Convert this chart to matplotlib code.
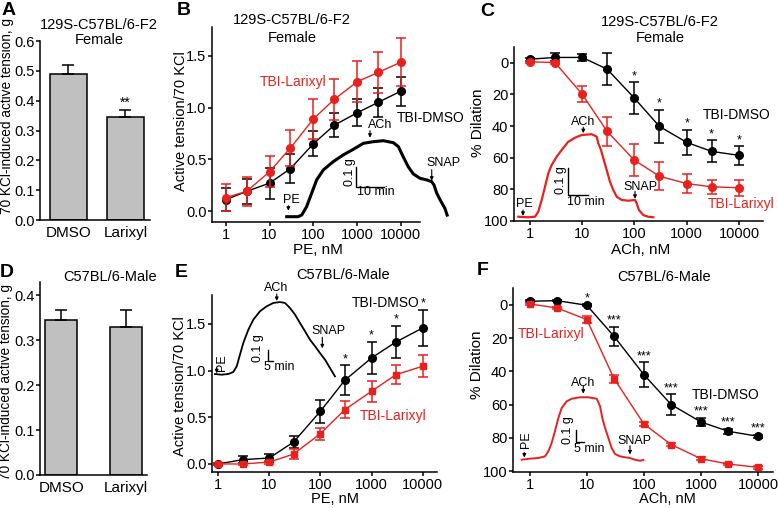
import matplotlib.pyplot as plt
from matplotlib.ticker import FixedLocator, NullLocator, FormatStrFormatter

plt.rcParams['font.family'] = ['Liberation Sans', 'DejaVu Sans']

W, H = 778, 508
RED = '#e8211d'
GREY = '#c0c0c0'

# ---- bar panels (A, D) ----
groups = ['DMSO', 'Larixyl']
a_tension = [0.49, 0.345]
a_sem = [0.03, 0.024]
d_tension = [0.344, 0.328]
d_sem = [0.022, 0.038]

# ---- concentration-response panels ----
conc = [1, 3, 10, 30, 100, 300, 1000, 3000, 10000]
conc_ticks = [1, 10, 100, 1000, 10000]

b_dmso = [0.11, 0.19, 0.27, 0.41, 0.65, 0.83, 0.95, 1.05, 1.16]
b_dmso_sem = [0.11, 0.12, 0.15, 0.14, 0.12, 0.115, 0.13, 0.14, 0.14]
b_lar = [0.13, 0.19, 0.38, 0.61, 0.89, 1.08, 1.25, 1.34, 1.44]
b_lar_sem = [0.13, 0.14, 0.15, 0.17, 0.19, 0.2, 0.2, 0.2, 0.23]

c_dmso = [-2.3, -3.4, -3.4, 4, 22.4, 40.2, 50.3, 56, 58.5]
c_dmso_sem = [1, 2.5, 2, 10, 10, 10.5, 8, 7, 5.8]
c_lar = [-0.6, -0.2, 19.9, 43.4, 61.6, 71.7, 76.3, 78.4, 79]
c_lar_sem = [0.5, 1, 5, 9, 10, 9, 6, 4.5, 5]
c_stars = ['', '', '', '', '*', '*', '*', '*', '*']

e_dmso = [0.0, 0.046, 0.064, 0.236, 0.565, 0.897, 1.136, 1.307, 1.457]
e_dmso_sem = [0.01, 0.035, 0.04, 0.065, 0.125, 0.16, 0.175, 0.175, 0.196]
e_lar = [0.0, 0.0, 0.02, 0.107, 0.325, 0.582, 0.779, 0.957, 1.047]
e_lar_sem = [0.01, 0.01, 0.015, 0.05, 0.065, 0.09, 0.11, 0.1, 0.12]
e_stars = ['', '', '', '', '', '*', '*', '*', '*']

f_dmso = [-2.2, -2.6, 0.2, 18.9, 42, 60, 70.5, 76.1, 79.1]
f_dmso_sem = [0.5, 0.5, 0.5, 5.7, 7.6, 6.2, 2.7, 1.5, 1]
f_lar = [-0.6, 1.8, 8.8, 44.4, 71.7, 84.1, 92.6, 95.8, 97.8]
f_lar_sem = [0.5, 0.8, 2, 2.5, 1.5, 1, 0.8, 0.8, 0.8]
f_stars = ['', '', '*', '***', '***', '***', '***', '***', '***']

# ---- example myograph traces (minutes, grams above baseline) ----
b_trace_t = [0, 4.1, 5.4, 7.1, 8.9, 10.7, 13.1, 16.6, 20.2, 23.8, 27.4, 30.9, 34.5,
             38.1, 39.9, 41.6, 43.4, 45.2, 47.6, 50.0, 51.8, 52.6, 53.6, 54.8, 56.5, 57.3]
b_trace_g = [0.0, 0.0, 0.009, 0.05, 0.117, 0.184, 0.234, 0.275, 0.309, 0.337, 0.367, 0.375, 0.38,
             0.37, 0.35, 0.30, 0.25, 0.214, 0.192, 0.184, 0.175, 0.159, 0.117, 0.084, 0.042, 0.008]

c_trace_t = [0, 5, 8.35, 10, 11.7, 13.35, 15, 16.7, 19.2, 21.7, 25, 28.35, 31.7, 36.7, 39.2,
             40, 41.35, 42.5, 44.2, 45.85, 47.5, 49.2, 51.7, 55, 58.35, 59.2, 60.35, 62.5, 65, 67.5]
c_trace_g = [0.001, -0.001, 0.001, 0.02, 0.064, 0.113, 0.164, 0.195, 0.226, 0.251, 0.282, 0.297,
             0.307, 0.31, 0.301, 0.276, 0.251, 0.22, 0.176, 0.132, 0.101, 0.076, 0.064, 0.061,
             0.064, 0.051, 0.026, 0.007, 0.001, -0.001]

e_trace_t = [0, 5.8, 11.6, 15.9, 18.9, 21.7, 24.6, 29.0, 33.3, 39.1, 45.0, 50.7, 56.5, 60.9,
             65.2, 69.6, 73.9, 78.3, 82.6, 87.0, 91.3, 95.7, 100.0, 104.3]
e_trace_g = [0.006, 0, 0.006, 0.023, 0.072, 0.171, 0.271, 0.385, 0.47, 0.542, 0.585, 0.613,
             0.621, 0.613, 0.57, 0.513, 0.442, 0.371, 0.299, 0.243, 0.185, 0.128, 0.057, -0.014]

f_trace_t = [0, 4.8, 9.6, 13.5, 15.4, 17.3, 19.2, 21.2, 23.1, 26, 28.9, 33.7, 38.5, 43.4,
             45.3, 46.6, 48.2, 50.1, 52, 53.9, 56.8, 59.7, 62.6, 65.5, 68.4, 70.3]
f_trace_g = [0.002, 0.011, 0.016, 0.03, 0.071, 0.138, 0.233, 0.341, 0.423, 0.477, 0.498, 0.51,
             0.51, 0.498, 0.437, 0.341, 0.26, 0.179, 0.098, 0.049, 0.03, 0.022, 0.016, 0.002,
             -0.006, 0]

fig = plt.figure(figsize=(W / 100, H / 100), dpi=100)


def px_axes(left, top, right, bottom):
    return fig.add_axes([left / W, 1 - bottom / H, (right - left) / W, (bottom - top) / H])


def fig_text(x, y, s, **kw):
    kw.setdefault('ha', 'center')
    kw.setdefault('va', 'center')
    fig.text(x / W, 1 - y / H, s, **kw)


def style(ax):
    ax.spines[['top', 'right']].set_visible(False)
    ax.spines[['left', 'bottom']].set_linewidth(1.1)
    ax.tick_params(direction='out', length=3, width=1.1, pad=1)
    ax.tick_params(axis='y', labelsize=10.5)
    ax.tick_params(axis='x', labelsize=10.5)


def bar_panel(box, values, sems, xlim, ylim, yticks, width, stars):
    ax = px_axes(*box)
    pos = range(len(groups))
    ax.bar(pos, values, width=width, color=GREY, edgecolor='black', linewidth=1.1, zorder=2)
    ax.errorbar(pos, values, yerr=[[0] * len(sems), sems], fmt='none', ecolor='black',
                elinewidth=1.1, capsize=4.5, capthick=1.1, zorder=3)
    for p, v, e, s in zip(pos, values, sems, stars):
        if s:
            ax.annotate(s, (p, v + e), xytext=(0, 0), textcoords='offset points',
                        ha='center', va='bottom', fontsize=10)
    ax.set_xlim(xlim)
    ax.set_ylim(ylim)
    ax.set_xticks(list(pos))
    ax.set_xticklabels(groups)
    ax.set_yticks(yticks)
    ax.yaxis.set_major_formatter(FormatStrFormatter('%.1f'))
    style(ax)
    ax.tick_params(axis='x', length=0, pad=4, labelsize=11)
    return ax


def dose_panel(box, xlim, ylim, yticks, dmso, dmso_sem, lar, lar_sem, lar_marker, stars, fmt=None):
    ax = px_axes(*box)
    ax.set_xscale('log')
    ax.errorbar(conc, dmso, yerr=dmso_sem, color='black', marker='o', ms=5.5, lw=1,
                elinewidth=1.1, capsize=3.5, capthick=1.1, zorder=3)
    ax.errorbar(conc, lar, yerr=lar_sem, color=RED, marker=lar_marker,
                ms=5.5 if lar_marker == 'o' else 5, lw=1,
                elinewidth=1.1, capsize=3.5, capthick=1.1, zorder=4)
    inverted = ylim[0] > ylim[1]
    for x, m, e, s in zip(conc, dmso, dmso_sem, stars):
        if s:
            top = m - e if inverted else m + e
            ax.annotate(s, (x, top), xytext=(0, 0), textcoords='offset points',
                        ha='center', va='bottom', fontsize=9)
    ax.set_xlim(xlim)
    ax.set_ylim(ylim)
    ax.xaxis.set_major_locator(FixedLocator(conc_ticks))
    ax.xaxis.set_minor_locator(NullLocator())
    ax.set_xticklabels([str(t) for t in conc_ticks])
    ax.set_yticks(yticks)
    if fmt:
        ax.yaxis.set_major_formatter(FormatStrFormatter(fmt))
    style(ax)
    return ax


def trace_axes(origin, px_per_min, px_per_g, tlim, glim):
    x0, y0 = origin
    ax = px_axes(x0 + tlim[0] * px_per_min, y0 - glim[1] * px_per_g,
                 x0 + tlim[1] * px_per_min, y0 - glim[0] * px_per_g)
    ax.set_xlim(tlim)
    ax.set_ylim(glim)
    ax.axis('off')
    return ax


def event(ax, label, label_xy, arrow_t, arrow_g, rot=0):
    ax.text(label_xy[0], label_xy[1], label, ha='center', va='center', fontsize=9, rotation=rot)
    ax.annotate('', xy=(arrow_t, arrow_g[1]), xytext=(arrow_t, arrow_g[0]),
                arrowprops=dict(arrowstyle='-|>', color='black', lw=0.8,
                                mutation_scale=5, shrinkA=0, shrinkB=0))


def scale_bar(ax, t, g, minutes, glabel_xy, tlabel_xy):
    ax.plot([t, t, t + minutes], [g + 0.1, g, g], color='black', lw=1)
    ax.text(glabel_xy[0], glabel_xy[1], '0.1 g', rotation=90, ha='center', va='center', fontsize=9)
    ax.text(tlabel_xy[0], tlabel_xy[1], f'{minutes} min', ha='center', va='center', fontsize=9)


# ---- A ----
bar_panel((40, 41, 150, 220), a_tension, a_sem, (-0.5, 1.43), (0, 0.6),
          [0, 0.1, 0.2, 0.3, 0.4, 0.5, 0.6], 0.64, ['', '**'])
# ---- D ----
bar_panel((40, 282, 147, 475), d_tension, d_sem, (-0.33, 1.33), (0, 0.429),
          [0, 0.1, 0.2, 0.3, 0.4], 0.49, ['', ''])

# ---- B ----
dose_panel((212, 27, 420, 222), (0.486, 27300), (-0.106, 1.78), [0, 0.5, 1.0, 1.5],
           b_dmso, b_dmso_sem, b_lar, b_lar_sem, 'o', [''] * 9, '%.1f')
tb = trace_axes((286.7, 216.7), 2.8, 200, (-3, 62), (-0.03, 0.5))
tb.plot(b_trace_t, b_trace_g, color='black', lw=2.2, solid_joinstyle='round')
event(tb, 'PE', (1.5, 0.083), 0.6, (0.055, 0.03))
event(tb, 'ACh', (33.3, 0.457), 29.75, (0.43, 0.395))
event(tb, 'SNAP', (55.9, 0.268), 51.8, (0.235, 0.18))
scale_bar(tb, 24.75, 0.15, 10, (22.6, 0.223), (31.7, 0.124))

# ---- C ----
dose_panel((514, 47, 763, 221), (0.494, 28840), (100, -10), [0, 20, 40, 60, 80, 100],
           c_dmso, c_dmso_sem, c_lar, c_lar_sem, 'o', c_stars)
tc = trace_axes((518.3, 217), 2.0, 267, (-3, 72), (-0.03, 0.42))
tc.plot(c_trace_t, c_trace_g, color=RED, lw=1.6, solid_joinstyle='round')
event(tc, 'PE', (2.9, 0.049), 2.35, (0.026, 0.004))
event(tc, 'ACh', (32.5, 0.357), 32.5, (0.336, 0.314))
event(tc, 'SNAP', (60.85, 0.111), 58.35, (0.096, 0.068))
scale_bar(tc, 25, 0.082, 10, (21.35, 0.139), (33.7, 0.057))

# ---- E ----
dose_panel((212, 295, 437, 472), (0.757, 19050), (-0.086, 1.81), [0, 0.5, 1.0, 1.5],
           e_dmso, e_dmso_sem, e_lar, e_lar_sem, 's', e_stars, '%.1f')
te = trace_axes((215, 374.7), 1.15, 117, (-3, 110), (-0.05, 0.8))
te.plot(e_trace_t, e_trace_g, color='black', lw=1.3, solid_joinstyle='round')
event(te, 'PE', (6.1, 0.1), 1.5, (0.06, 0.012), rot=90)
event(te, 'ACh', (52.9, 0.741), 53.7, (0.69, 0.63))
event(te, 'SNAP', (99.1, 0.373), 93.3, (0.32, 0.225))
scale_bar(te, 45.8, 0.115, 5, (37, 0.228), (55.7, 0.062))

# ---- F ----
dose_panel((513, 288, 773, 472), (0.51, 18200), (100.6, -10.2), [0, 20, 40, 60, 80, 100],
           f_dmso, f_dmso_sem, f_lar, f_lar_sem, 's', f_stars)
tf = trace_axes((521.7, 460), 1.73, 123, (-3, 75), (-0.04, 0.7))
tf.plot(f_trace_t, f_trace_g, color=RED, lw=1.4, solid_joinstyle='round')
event(tf, 'PE', (2.3, 0.167), 1.5, (0.06, 0.02), rot=90)
event(tf, 'ACh', (35.6, 0.626), 35.6, (0.6, 0.54))
event(tf, 'SNAP', (65.1, 0.152), 62.6, (0.115, 0.045))
scale_bar(tf, 31.2, 0.146, 5, (26.9, 0.246), (38.9, 0.089))

# ---- text ----
for x, y, s in [(2, 2, 'A'), (177, 2, 'B'), (480, 3, 'C'),
                (0, 264, 'D'), (175, 264, 'E'), (477, 262, 'F')]:
    fig_text(x, y, s, ha='left', va='top', fontsize=14, fontweight='bold')

for x, y1, y2 in [(99, 25, 40), (292, 20, 37.5), (660, 22.5, 38)]:
    fig_text(x, y1, '129S-C57BL/6-F2', fontsize=10.5)
    fig_text(x, y2, 'Female', fontsize=10.5)
for x, y in [(110, 277), (343, 275), (664, 277)]:
    fig_text(x, y, 'C57BL/6-Male', fontsize=10.5)

fig_text(7, 116, '70 KCl-induced active tension, g', rotation=90, fontsize=9.8)
fig_text(6, 382, '70 KCl-induced active tension, g', rotation=90, fontsize=9.8)
fig_text(181, 121, 'Active tension/70 KCl', rotation=90, fontsize=10.5)
fig_text(180, 386, 'Active tension/70 KCl', rotation=90, fontsize=10.5)
fig_text(478, 123, '% Dilation', rotation=90, fontsize=11)
fig_text(477, 365, '% Dilation', rotation=90, fontsize=11)

fig_text(318, 250, 'PE, nM', fontsize=11)
fig_text(641, 250, 'ACh, nM', fontsize=11)
fig_text(335, 499, 'PE, nM', fontsize=10.5)
fig_text(667, 499, 'ACh, nM', fontsize=10.5)

for x, y, s, c in [(260, 82, 'TBI-Larixyl', RED), (397, 118, 'TBI-DMSO', 'black'),
                   (703, 115, 'TBI-DMSO', 'black'), (708, 204, 'TBI-Larixyl', RED),
                   (352, 303, 'TBI-DMSO', 'black'), (360, 416, 'TBI-Larixyl', RED),
                   (518, 334, 'TBI-Larixyl', RED), (692, 395, 'TBI-DMSO', 'black')]:
    fig_text(x, y, s, ha='left', fontsize=10, color=c)

fig.savefig('out.png', dpi=100)
